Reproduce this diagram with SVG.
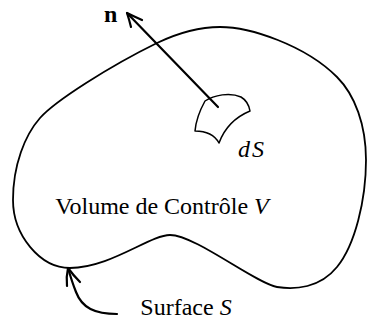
<svg xmlns="http://www.w3.org/2000/svg" width="367" height="328" viewBox="0 0 367 328">
<style>
.txt{font-size:24px;fill:#000}
.it{font-style:italic}
.line{fill:none;stroke:#000;stroke-linecap:round;stroke-linejoin:round}
</style>
<rect width="367" height="328" fill="#fff"/>
<g id="surface">
<path class="line" stroke-width="1.8" d="M13,200 C13,165 25,135 40,118 C55,101 110,66 157,43 C180,32 200,27 220,27 C250,27 305,45 337,77 C355,95 366,125 366,160 C366,200 355,245 337,267 C320,288 295,290 277,287 C255,283 195,235 170,235 C150,235 110,268 70,268 C40,268 13,235 13,200 Z"/>
</g>
<g id="patch">
<path class="line" stroke-width="1.5" d="M205,101 C214,95 230,92 241,97 C246,100 249,105 250,111 C238,116 226,124 219,143 C214,134 205,131 195,131 C196,120 200,110 205,101 Z"/>
</g>
<g id="connectors">
<path class="line" stroke-width="2.2" d="M218,107 L127,13"/>
<path class="line" stroke-width="2.2" d="M131,27 Q129,19 127,13 Q133,16 142,20"/>
<path class="line" stroke-width="2.2" d="M117,314 C95,314 82,308 76,292 C72,282 70,275 68,268"/>
<path class="line" stroke-width="2.2" d="M67,286 Q66,277 68,268 Q73,275 80,282"/>
</g>
<g id="label-n"><text class="txt" font-family="Liberation Serif" x="104" y="22" font-weight="bold">n</text></g>
<g id="label-dS"><text class="txt it" font-family="Liberation Serif" x="238" y="157">d<tspan x="252">S</tspan></text></g>
<g id="label-V"><text class="txt" font-family="Liberation Serif" x="162" y="214" text-anchor="middle">Volume de Contrôle <tspan class="it">V</tspan></text></g>
<g id="label-S"><text class="txt" font-family="Liberation Serif" x="186" y="315" text-anchor="middle">Surface <tspan class="it">S</tspan></text></g>
</svg>
